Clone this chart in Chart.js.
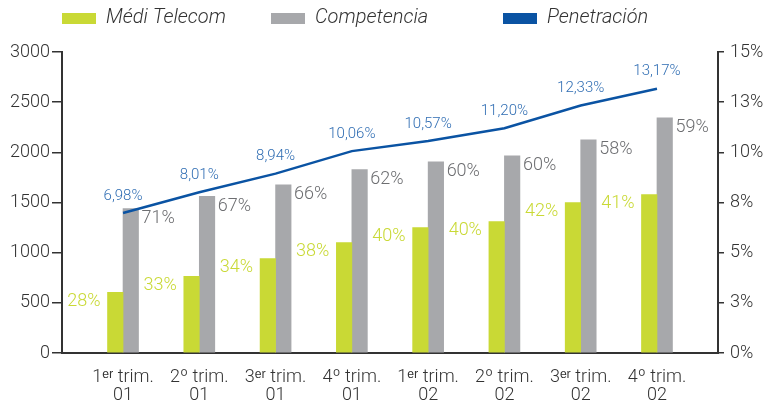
<!DOCTYPE html>
<html><head><meta charset="utf-8">
<script src="https://cdn.jsdelivr.net/npm/chart.js@4/dist/chart.umd.min.js"></script>
<style>html,body{margin:0;padding:0;background:#fff}canvas{display:block}</style>
</head><body>
<canvas id="c" width="769" height="407"></canvas>
<script>
const categories = [['1ᵉʳ trim.','01'],['2º trim.','01'],['3ᵉʳ trim.','01'],['4º trim.','01'],['1ᵉʳ trim.','02'],['2º trim.','02'],['3ᵉʳ trim.','02'],['4º trim.','02']];
const mediTelecom = [604, 763, 941, 1101, 1250, 1310, 1498, 1578];
const competencia = [1439, 1561, 1677, 1827, 1906, 1966, 2125, 2344];
const penetracion = [6.98, 8.01, 8.94, 10.06, 10.57, 11.20, 12.33, 13.17];
const mediShareLabels = ['28%','33%','34%','38%','40%','40%','42%','41%'];
const compShareLabels = ['71%','67%','66%','62%','60%','60%','58%','59%'];
const leftTickValues = [0, 500, 1000, 1500, 2000, 2500, 3000];
const rightTickValues = [0, 2.5, 5, 7.5, 10, 12.5, 15];
const rightTickLabels = ['0%','3%','5%','8%','10%','13%','15%'];

const GREEN = '#c9d935', GREY = '#a7a8ab', BLUE = '#0a53a3';
const FONT = "Roboto, 'DejaVu Sans', sans-serif";
const TXT = '#333333';

const legendPlugin = {
  id: 'customLegend',
  afterDraw(chart) {
    const ctx = chart.ctx;
    const xs = [62, 271, 503];
    ctx.save();
    chart.data.datasets.forEach((ds, i) => {
      ctx.fillStyle = ds.legendColor;
      ctx.fillRect(xs[i], 13, 34, 11);
      ctx.fillStyle = TXT;
      ctx.font = "italic 300 20px " + FONT;
      ctx.textBaseline = 'middle';
      ctx.textAlign = 'left';
      ctx.fillText(ds.label, xs[i] + 44, 18);
    });
    ctx.restore();
  }
};

const labelPlugin = {
  id: 'valueLabels',
  afterDatasetsDraw(chart) {
    const ctx = chart.ctx;
    ctx.save();
    ctx.textBaseline = 'middle';
    const m0 = chart.getDatasetMeta(0), m1 = chart.getDatasetMeta(1), m2 = chart.getDatasetMeta(2);
    ctx.font = "300 18px " + FONT;
    m0.data.forEach((el, i) => {
      ctx.fillStyle = GREEN; ctx.textAlign = 'right';
      ctx.fillText(mediShareLabels[i], el.x - el.width / 2 - 7, el.y + 9);
    });
    m1.data.forEach((el, i) => {
      ctx.fillStyle = '#6d6e71'; ctx.textAlign = 'left';
      ctx.fillText(compShareLabels[i], el.x + el.width / 2 + 3, el.y + 10);
    });
    ctx.font = "300 15px " + FONT;
    m2.data.forEach((el, i) => {
      ctx.fillStyle = '#2f6db3'; ctx.textAlign = 'center';
      ctx.fillText(penetracion[i].toFixed(2).replace('.', ',') + '%', el.x, el.y - 17);
    });
    ctx.restore();
  }
};

new Chart(document.getElementById('c'), {
  type: 'bar',
  data: {
    datasets: [
      { type: 'bar', label: 'Médi Telecom', legendColor: GREEN, backgroundColor: GREEN,
        data: mediTelecom.map((v, i) => ({ x: i, y: v })), yAxisID: 'y', order: 2 },
      { type: 'bar', label: 'Competencia', legendColor: GREY, backgroundColor: GREY,
        data: competencia.map((v, i) => ({ x: i, y: v })), yAxisID: 'y', order: 2 },
      { type: 'line', label: 'Penetración', legendColor: BLUE, borderColor: BLUE, borderWidth: 2.5,
        pointRadius: 0, tension: 0, fill: false,
        data: penetracion.map((v, i) => ({ x: i, y: v })), yAxisID: 'y1', order: 1 }
    ]
  },
  options: {
    responsive: false,
    animation: false,
    devicePixelRatio: 1,
    layout: { padding: { top: 52, left: 0, right: 0, bottom: 0 } },
    datasets: { bar: { barThickness: 15.5 } },
    plugins: { legend: { display: false }, tooltip: { enabled: false } },
    scales: {
      x: {
        type: 'linear', min: -0.8, max: 7.8, offset: false,
        afterBuildTicks: (s) => { s.ticks = categories.map((_, i) => ({ value: i })); },
        afterFit: (s) => { s.height = 54; },
        grid: { display: false },
        border: { display: true, color: '#333', width: 2 },
        ticks: { autoSkip: false, maxRotation: 0, padding: 7, color: TXT,
          font: { family: FONT, size: 18, weight: 300, lineHeight: 1.0 },
          callback: (v) => categories[v] || '' }
      },
      y: {
        position: 'left', min: 0, max: 3000,
        afterBuildTicks: (s) => { s.ticks = leftTickValues.map(v => ({ value: v })); },
        afterFit: (s) => { s.width = 62; },
        grid: { drawOnChartArea: false, tickLength: 10, color: '#333', lineWidth: 1.5 },
        border: { display: true, color: '#333', width: 2 },
        ticks: { padding: 2, color: TXT, font: { family: FONT, size: 18, weight: 300 },
          callback: (v) => String(v) }
      },
      y1: {
        position: 'right', min: 0, max: 15,
        afterBuildTicks: (s) => { s.ticks = rightTickValues.map(v => ({ value: v })); },
        afterFit: (s) => { s.width = 51; },
        grid: { drawOnChartArea: false, tickLength: 6, color: '#333', lineWidth: 1.5 },
        border: { display: true, color: '#333', width: 2 },
        ticks: { padding: 6, color: TXT, font: { family: FONT, size: 18, weight: 300 },
          callback: (v) => rightTickLabels[rightTickValues.indexOf(v)] }
      }
    }
  },
  plugins: [legendPlugin, labelPlugin]
});
</script>
</body></html>
